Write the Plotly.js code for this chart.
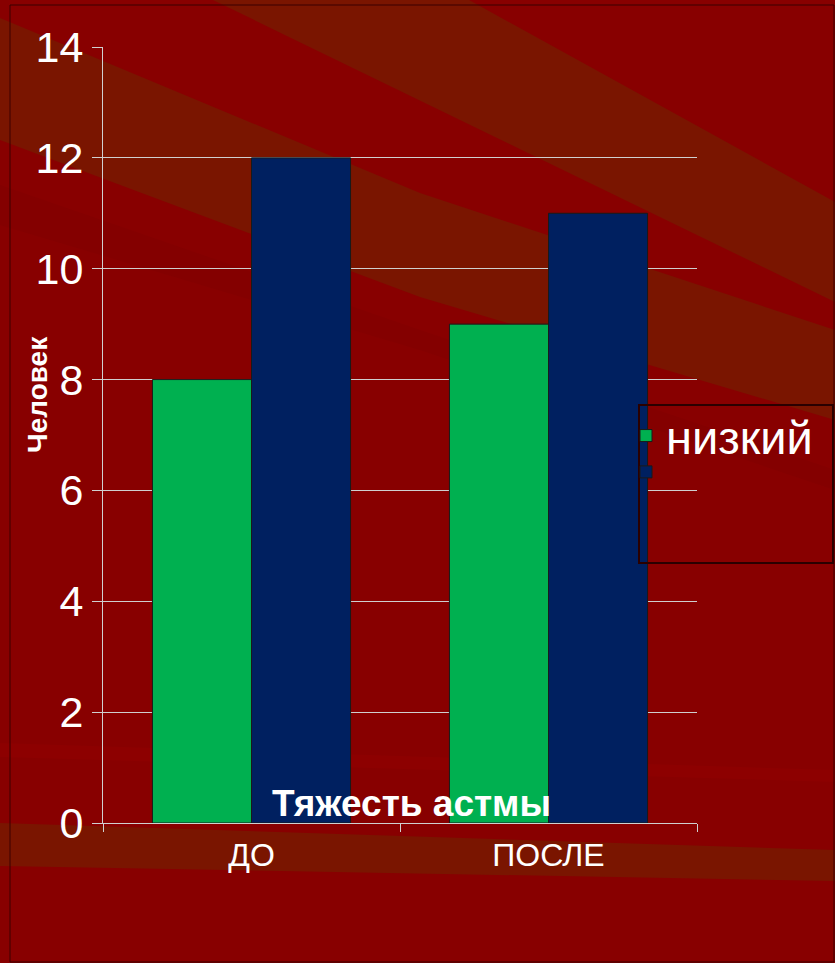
<!DOCTYPE html>
<html>
<head>
<meta charset="utf-8">
<script src="https://cdn.plot.ly/plotly-3.0.1.min.js"></script>
<style>html,body{margin:0;padding:0;background:#880000;}#chart{width:835px;height:963px;}</style>
</head>
<body>
<div id="chart"></div>
<script>
const categories = ["ДО", "ПОСЛЕ"];
const seriesNames = ["низкий", " "];
const lowValues = [8, 9];
const highValues = [12, 11];
const yTicks = [0, 2, 4, 6, 8, 10, 12, 14];

const W = 835, H = 963;
const L = 103, R = 697, T = 47, B = 823;
const qx = (x) => (x - L) / (R - L);
const qy = (y) => (B - y) / (B - T);
function bandP(pts, color) {
  let d = pts.map((p, i) => (i ? 'L' : 'M') + qx(p[0]).toFixed(5) + ',' + qy(p[1]).toFixed(5)).join(' ') + ' Z';
  return {type: 'path', xref: 'paper', yref: 'paper', path: d, fillcolor: color, line: {width: 0}, layer: 'below'};
}

const SANS = 'Liberation Sans, Arial, sans-serif';

const traces = [
  {type: 'bar', name: seriesNames[0], x: categories, y: lowValues, legend: 'legend',
   marker: {color: '#00b050', line: {color: '#1a1a1a', width: 1}}},
  {type: 'bar', name: seriesNames[1], x: categories, y: highValues, legend: 'legend2',
   marker: {color: '#002060', line: {color: '#1a1a1a', width: 1}}}
];

const RED = '#880000', BROWN = '#7a1500';
const shapes = [
  bandP([[0, 0], [835, 0], [835, 963], [0, 963]], RED),
  bandP([[213, 0], [469, 0], [835, 202], [835, 302]], BROWN),
  bandP([[0, 18], [420, 193], [835, 330], [835, 420], [420, 297], [0, 140]], BROWN),
  bandP([[0, 185], [420, 330], [835, 470], [835, 490], [420, 350], [0, 225]], '#840000'),
  bandP([[0, 743], [835, 770], [835, 782], [0, 757]], '#8d0000'),
  bandP([[0, 823], [835, 850], [835, 881], [0, 866]], BROWN),
  {type: 'rect', xref: 'paper', yref: 'paper', x0: qx(639), x1: qx(833), y0: qy(405), y1: qy(563),
   line: {color: '#2a0000', width: 2}, fillcolor: 'rgba(0,0,0,0)'},
  {type: 'rect', xref: 'paper', yref: 'paper', x0: qx(10), x1: qx(834), y0: qy(5), y1: qy(962),
   line: {color: '#3a0000', width: 1}, fillcolor: 'rgba(0,0,0,0)', layer: 'below'}
];

const layout = {
  width: W, height: H,
  margin: {l: L, r: W - R, t: T, b: H - B, pad: 0},
  paper_bgcolor: RED,
  plot_bgcolor: 'rgba(0,0,0,0)',
  font: {family: SANS, color: '#ffffff'},
  barmode: 'group',
  bargap: 0.333,
  bargroupgap: 0,
  showlegend: true,
  legend: {
    x: qx(626), y: qy(436), xanchor: 'left', yanchor: 'middle',
    bgcolor: 'rgba(0,0,0,0)', borderwidth: 0,
    font: {size: 47, color: '#ffffff', family: SANS}
  },
  legend2: {
    x: qx(626), y: qy(472), xanchor: 'left', yanchor: 'middle',
    bgcolor: 'rgba(0,0,0,0)', borderwidth: 0,
    font: {size: 16, color: '#ffffff', family: SANS}
  },
  xaxis: {
    type: 'category',
    showgrid: false,
    showline: true, linecolor: '#d0d0d0', linewidth: 1,
    ticks: 'outside', tickson: 'boundaries', ticklen: 8, tickcolor: '#d0d0d0',
    ticklabelstandoff: 4,
    tickfont: {size: 32, color: '#ffffff', family: SANS},
    zeroline: false
  },
  yaxis: {
    range: [0, 14],
    tickvals: yTicks,
    ticktext: yTicks.map(String),
    showgrid: true, gridcolor: '#cfcfcf', gridwidth: 1,
    showline: true, linecolor: '#d0d0d0', linewidth: 1,
    ticks: 'outside', ticklen: 10, tickcolor: '#d0d0d0',
    tickfont: {size: 43, color: '#ffffff', family: SANS},
    zeroline: false
  },
  shapes: shapes,
  annotations: [
    {text: '<b>Тяжесть астмы</b>', xref: 'paper', yref: 'paper', x: qx(411), y: qy(803),
     showarrow: false, font: {size: 37, color: '#ffffff', family: SANS}, xanchor: 'center', yanchor: 'middle'},
    {text: '<b>Человек</b>', xref: 'paper', yref: 'paper', x: qx(38), y: qy(395),
     showarrow: false, textangle: -90, font: {size: 28, color: '#ffffff', family: SANS}, xanchor: 'center', yanchor: 'middle'}
  ]
};

Plotly.newPlot('chart', traces, layout, {displayModeBar: false, staticPlot: true});
</script>
</body>
</html>
